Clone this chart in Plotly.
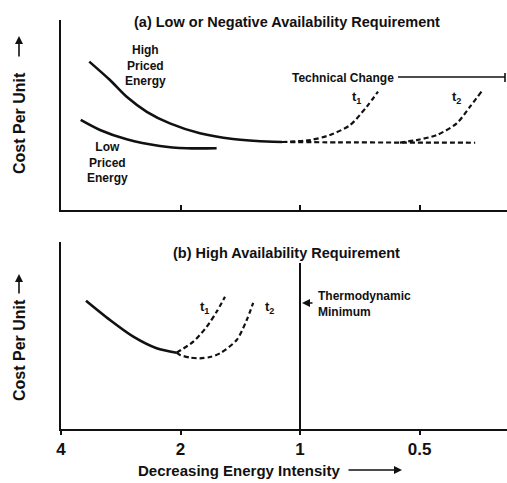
import math
import plotly.graph_objects as go

# ---------------- data (energy intensity on x, relative cost on y, 0-10) -------------
tick_vals = [4, 2, 1, 0.5]
tick_text = ["4", "2", "1", "0.5"]

# panel (a)
high_x = [3.395, 3.011, 2.733, 2.432, 2.127, 1.787, 1.476, 1.170, 1.110]
high_y = [7.81, 6.84, 5.96, 5.17, 4.56, 4.04, 3.74, 3.59, 3.58]
low_x = [3.568, 3.190, 2.733, 2.253, 1.929, 1.622]
low_y = [4.74, 4.21, 3.72, 3.37, 3.25, 3.25]
flat_x = [1.110, 0.800, 0.550, 0.362]
flat_y = [3.58, 3.56, 3.55, 3.54]
a_t1_x = [1.110, 0.943, 0.840, 0.748, 0.679, 0.636]
a_t1_y = [3.58, 3.68, 3.95, 4.47, 5.44, 6.23]
a_t2_x = [0.560, 0.508, 0.452, 0.403, 0.373, 0.349]
a_t2_y = [3.55, 3.68, 3.95, 4.56, 5.44, 6.23]

# panel (b)
b_solid_x = [3.460, 3.011, 2.630, 2.297, 2.046]
b_solid_y = [6.86, 5.83, 4.94, 4.32, 4.08]
b_t1_x = [2.046, 1.857, 1.718, 1.622, 1.545]
b_t1_y = [4.08, 4.67, 5.47, 6.27, 7.07]
b_t2_x = [2.046, 2.006, 1.893, 1.787, 1.685, 1.590, 1.444, 1.362, 1.312]
b_t2_y = [4.08, 3.96, 3.82, 3.78, 3.85, 4.05, 4.76, 5.83, 6.75]
thermo_x = [1, 1]
thermo_y = [0, 8.88]

# ---------------- figure ----------------
W, H = 507, 483
ML, MR, MT, MB = 61, 0, 20, 54
PW, PH = W - ML - MR, H - MT - MB


def pp(px, py):
    return (px - ML) / PW, (H - MB - py) / PH


FONT = "Liberation Sans, Arial, sans-serif"
BLACK = "#111111"

fig = go.Figure()


def add_line(x, y, ax, dash=None, width=2.6):
    fig.add_trace(go.Scatter(
        x=x, y=y, mode="lines", xaxis=ax[0], yaxis=ax[1],
        line=dict(color=BLACK, width=width, dash=dash, shape="spline", smoothing=0.8),
        hoverinfo="skip", showlegend=False))


A = ("x", "y")
B = ("x2", "y2")
DASH = "5px,3px"
add_line(high_x, high_y, A)
add_line(low_x, low_y, A)
add_line(flat_x, flat_y, A, DASH, 2.2)
add_line(a_t1_x, a_t1_y, A, DASH, 2.2)
add_line(a_t2_x, a_t2_y, A, DASH, 2.2)
add_line(b_solid_x, b_solid_y, B)
add_line(b_t1_x, b_t1_y, B, DASH, 2.2)
add_line(b_t2_x, b_t2_y, B, DASH, 2.2)
fig.add_trace(go.Scatter(x=thermo_x, y=thermo_y, mode="lines", xaxis="x2", yaxis="y2",
                         line=dict(color=BLACK, width=2), hoverinfo="skip", showlegend=False))

xr = [math.log10(4), math.log10(0.301)]
top_dom = [(H - MB - 210) / PH, 1.0]
bot_dom = [0.0, (H - MB - 242) / PH]

common_x = dict(type="log", range=xr, showgrid=False, zeroline=False, showline=True,
                linecolor=BLACK, linewidth=2, tickvals=tick_vals, ticktext=tick_text,
                tickcolor=BLACK, tickwidth=2)
common_y = dict(range=[0, 10], showgrid=False, zeroline=False, showline=True,
                linecolor=BLACK, linewidth=2, showticklabels=False, ticks="")

fig.update_layout(
    width=W, height=H, margin=dict(l=ML, r=MR, t=MT, b=MB),
    paper_bgcolor="white", plot_bgcolor="white",
    font=dict(family=FONT, color=BLACK),
    xaxis=dict(common_x, anchor="y", ticks="inside", ticklen=5, showticklabels=False),
    yaxis=dict(common_y, domain=top_dom, anchor="x"),
    xaxis2=dict(common_x, anchor="y2", ticks="outside", ticklen=4,
                tickfont=dict(size=17, family=FONT, color=BLACK, weight="bold")),
    yaxis2=dict(common_y, domain=bot_dom, anchor="x2"),
)

anns = []


def txt(px, py, text, size, xanchor="center", yanchor="middle", align="center", angle=0):
    x, y = pp(px, py)
    anns.append(dict(x=x, y=y, xref="paper", yref="paper", text=text, showarrow=False,
                     xanchor=xanchor, yanchor=yanchor, align=align, textangle=angle,
                     font=dict(size=size, family=FONT, color=BLACK, weight="bold")))


txt(287, 22, "(a) Low or Negative Availability Requirement", 14.5)
txt(286, 253, "(b) High Availability Requirement", 14.5)
txt(145, 66, "High<br>Priced<br>Energy", 12)
txt(107, 162, "Low<br>Priced<br>Energy", 12)
txt(396, 78, "Technical Change", 12, xanchor="right")
txt(356, 97, "t<sub>1</sub>", 13)
txt(456, 97, "t<sub>2</sub>", 13)
txt(204, 307, "t<sub>1</sub>", 13)
txt(269, 307, "t<sub>2</sub>", 13)
txt(316, 304, "Thermodynamic<br>Minimum", 12, xanchor="left", align="left")
txt(342, 470, "Decreasing Energy Intensity", 15, xanchor="right")
txt(19, 123, "Cost Per Unit", 16, angle=-90)
txt(19, 350, "Cost Per Unit", 16, angle=-90)


def arrow(hx, hy, tx, ty):
    x, y = pp(hx, hy)
    anns.append(dict(x=x, y=y, xref="paper", yref="paper", text="", showarrow=True,
                     ax=tx - hx, ay=ty - hy, arrowhead=2, arrowsize=1, arrowwidth=1.6,
                     arrowcolor=BLACK))


arrow(302, 303, 314, 303)     # thermodynamic minimum pointer
arrow(402, 470, 347, 470)     # x title arrow
arrow(19, 36, 19, 58)         # y title arrow (a)
arrow(19, 274, 19, 295)       # y title arrow (b)

fig.update_layout(annotations=anns)

# technical change bracket
x0, y0 = pp(398, 77)
x1, _ = pp(505, 77)
_, yb0 = pp(505, 73)
_, yb1 = pp(505, 82)
fig.add_shape(type="line", xref="paper", yref="paper", x0=x0, y0=y0, x1=x1, y1=y0,
              line=dict(color=BLACK, width=1.6))
fig.add_shape(type="line", xref="paper", yref="paper", x0=x1, y0=yb0, x1=x1, y1=yb1,
              line=dict(color=BLACK, width=1.6))

fig.write_html("out.html", config={"displayModeBar": False},
               post_script="document.body.style.margin='0';")
